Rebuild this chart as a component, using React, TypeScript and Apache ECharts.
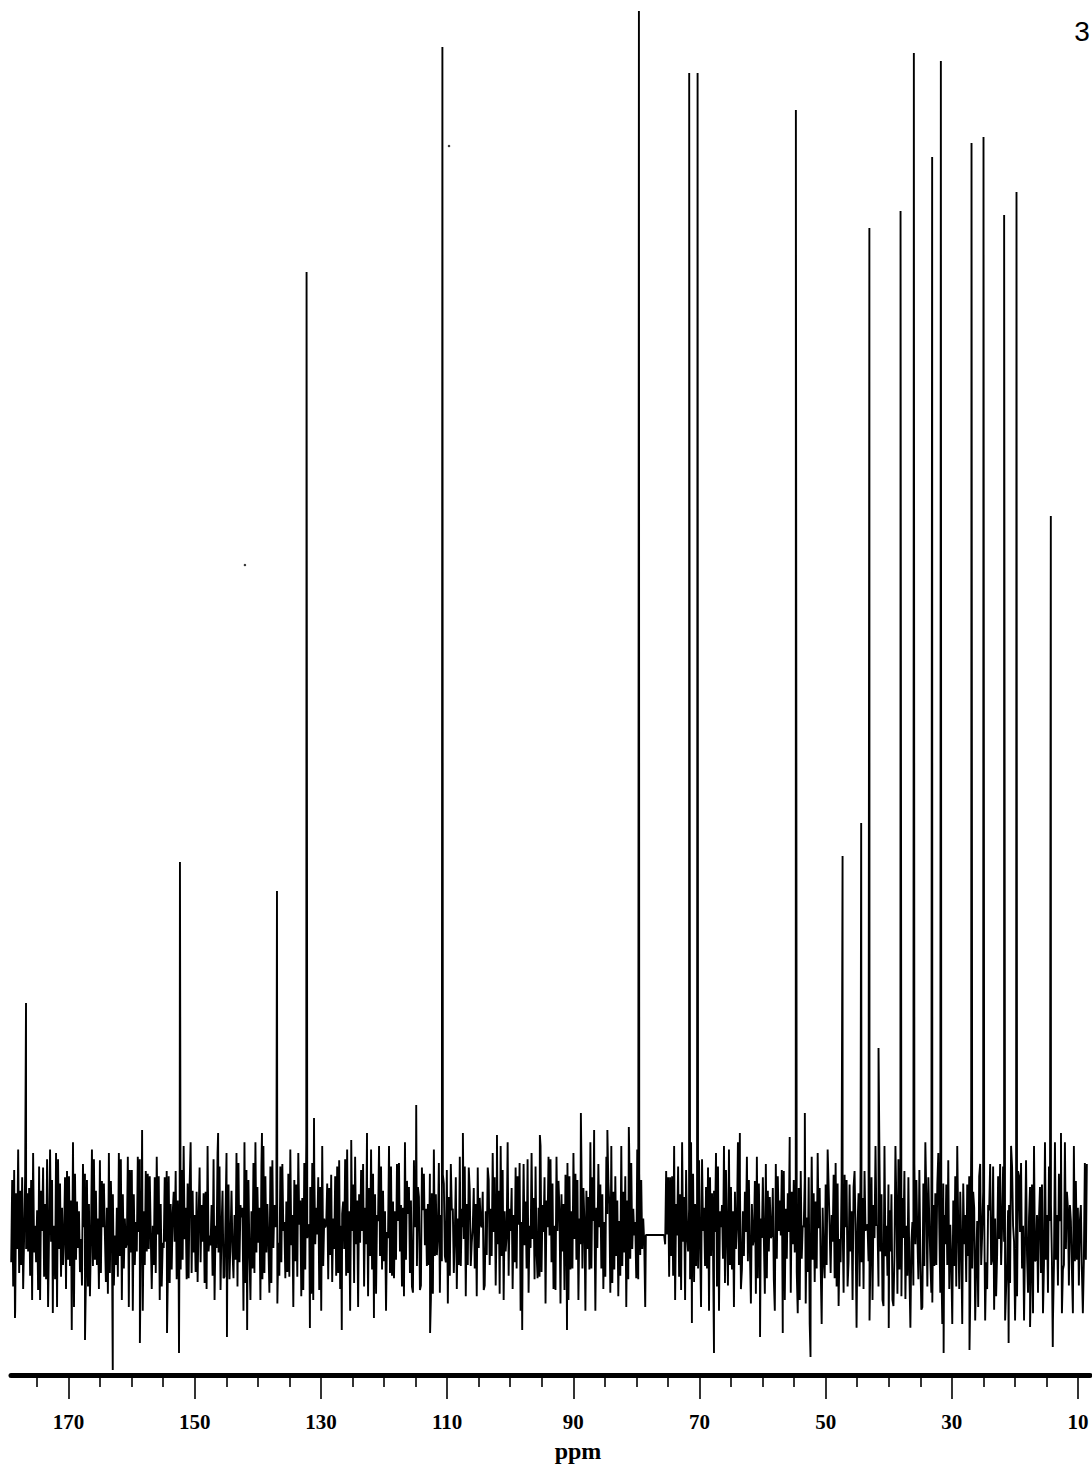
import { useEffect, useRef } from "react";
import * as echarts from "echarts";

// x axis (ppm, reversed)
const AXIS_MIN = 8.1;
const AXIS_MAX = 179.13;
const MAJOR_TICKS = [170, 150, 130, 110, 90, 70, 50, 30, 10];
const MINOR_TICKS = [175, 165, 160, 155, 145, 140, 135, 125, 120, 115, 105, 100, 95, 85, 80, 75, 65, 60, 55, 45, 40, 35, 25, 20, 15];

// resonance lines: position (ppm) and height (arbitrary intensity units)
const PEAK_PPM = [176.75, 152.35, 136.97, 132.28, 114.9, 110.75, 79.6, 71.63, 70.3, 54.72, 47.32, 44.37, 43.07, 41.62, 38.13, 36.02, 33.12, 31.74, 26.88, 24.98, 21.71, 19.75, 14.31];
const PEAK_HEIGHT = [372, 513, 484, 1103, 270, 1328, 1364, 1302, 1302, 1265, 519, 552, 1147, 327, 1164, 1322, 1218, 1314, 1232, 1238, 1160, 1183, 859];

// larger noise excursions
const SPIKE_PPM = [178.5, 172.5, 169.5, 167.4, 163.0, 158.7, 158.35, 154.4, 152.5, 146.3, 144.9, 141.7, 139.35, 131.75, 131.1, 126.7, 125.2, 122.7, 121.6, 112.7, 107.5, 102.1, 98.1, 95.3, 91.0, 88.8, 86.7, 84.6, 81.2, 71.2, 67.7, 63.6, 60.4, 56.8, 55.7, 53.3, 52.4, 40.0, 31.3, 27.2, 21.0, 17.6, 14.0, 12.7];
const SPIKE_VALUE = [57, 62, 45, 35, 5, 32, 245, 42, 22, 242, 38, 45, 242, 47, 257, 45, 235, 242, 57, 42, 242, 240, 45, 240, 45, 262, 245, 245, 248, 52, 22, 242, 38, 42, 238, 262, 18, 47, 22, 25, 32, 48, 28, 242];

// baseline noise samples: coarse level digit + fine level digit around the baseline
const NOISE_START = 179.1;
const NOISE_END = 8.6;
const BASELINE = 140;
const NOISE_LEVEL = 17;
const NOISE_FINE_LEVEL = 3.6;
const GAP_FROM = 78.5;
const GAP_TO = 75.7;
const NOISE_DIGITS =
  "372816493728159463827194635281749362815947362918473625819473" +
  "629184736251948372615938472619384751629384715263948172635918" +
  "481726395847162938475162839471625384917263584926173849562718" +
  "937462815937462819354728163948257136948257316492837561928374" +
  "162839475618293746518293746152839461728394617283956172839465" +
  "728193648271936457283916472839165748293617482936175849263718" +
  "493817265948372615493827164958372619485736219483762195847362" +
  "816294735816297438162957348162937458162973548261937548216397" +
  "274958163729481635927481639275816394728163957284163927581649" +
  "583716294851736294817362958471639285174639285716394827163958" +
  "619283746152938471629384756192837465192834761529384716253948" +
  "384729165837294618537294816372951846372918463759281647392851" +
  "927361845927136485927316458291736485291736458219374658291736" +
  "591837462081936471528039461729583064182975364918270538619472" +
  "283617940562837194652038174965283710946285371049628351749062" +
  "820461937528401739628541073628951407638291540637295184073618" +
  "471928603517924860317592480613759268401357298640319758260493" +
  "157380924615738029461857302946185703294861753092846157302849";
const NOISE_FINE =
  "482609371584620397158362049173582064913758204619370582461093" +
  "739150284617395082641739058264139728506139472850619347280516" +
  "260481753926048175392608415793620845179362805147932608154792" +
  "915236087241593068724159308627145903682415793062841750936281" +
  "347819260537481926057348196205743819265074318920657431829605" +
  "608329574160832957416082395714608239571406823597140683259741" +
  "172594036817259403681752940368712549038617254903681729540368" +
  "539071462853907146285390174628530917468253091764283590174628" +
  "801634729508163472950816342795801634279508613472950861342795" +
  "294760158392476105839247615083294716053829746105839274610583" +
  "658302917465830291746583021974568320197465380291746538029174" +
  "041958362704195836270491586327401985367204198536270491583627" +
  "786241035987624103598726413059782641039578621403598726413059" +
  "315098276413150982764135098276413150928764135098276143150982" +
  "927436180592743618059274316805297436810529743618509274361805" +
  "460517398246051739824605713982645017392846501739284605179382" +
  "193870524619387052461938075246913807526491387052641938702546" +
  "576124890357612489035761428903756142893057162489305761249803";

// scanning specks
const SPECK_PPM = [109.7, 142.05];
const SPECK_VALUE = [1229, 810];

export default function App() {
  const ref = useRef<HTMLDivElement>(null);
  useEffect(() => {
    if (!ref.current) return;
    const chart = echarts.init(ref.current, null, { renderer: "svg" });
    const pts: [number, number][] = [];
    const n = NOISE_DIGITS.length;
    for (let i = 0; i < n; i++) {
      const ppm = NOISE_START - (i * (NOISE_START - NOISE_END)) / (n - 1);
      if (ppm < GAP_FROM && ppm > GAP_TO) continue;
      const d = Number(NOISE_DIGITS[i]);
      const f = Number(NOISE_FINE[i] ?? "4");
      pts.push([ppm, BASELINE + (d - 4.5) * NOISE_LEVEL + (f - 4.5) * NOISE_FINE_LEVEL]);
    }
    pts.push([GAP_FROM, BASELINE], [GAP_TO, BASELINE]);
    PEAK_PPM.forEach((p, i) => pts.push([p, PEAK_HEIGHT[i]]));
    SPIKE_PPM.forEach((p, i) => pts.push([p, SPIKE_VALUE[i]]));
    pts.sort((a, b) => b[0] - a[0]);

    const serif = "'Liberation Serif', 'DejaVu Serif', serif";
    chart.setOption({
      animation: false,
      backgroundColor: "#ffffff",
      grid: { left: 11, right: 2, top: 0, bottom: 94, containLabel: false, outerBoundsMode: "none" },
      xAxis: [
        {
          type: "value",
          min: AXIS_MIN,
          max: AXIS_MAX,
          inverse: true,
          position: "bottom",
          splitLine: { show: false },
          axisLine: { show: true, lineStyle: { color: "#000", width: 5 } },
          axisTick: { show: true, customValues: MAJOR_TICKS, length: 24, lineStyle: { color: "#000", width: 1.6 } },
          axisLabel: {
            show: true,
            customValues: MAJOR_TICKS,
            margin: 36,
            color: "#000",
            fontFamily: serif,
            fontWeight: "bold",
            fontSize: 21,
          },
        },
        {
          type: "value",
          min: AXIS_MIN,
          max: AXIS_MAX,
          inverse: true,
          position: "bottom",
          splitLine: { show: false },
          axisLine: { show: false },
          axisTick: { show: true, customValues: MINOR_TICKS, length: 12, lineStyle: { color: "#000", width: 1.6 } },
          axisLabel: { show: false },
        },
      ],
      yAxis: { type: "value", min: 0, max: 1375, show: false },
      series: [
        {
          type: "line",
          xAxisIndex: 0,
          data: pts,
          symbol: "none",
          lineStyle: { color: "#000", width: 1.9 },
          silent: true,
        },
        {
          type: "scatter",
          xAxisIndex: 0,
          data: SPECK_PPM.map((p, i) => [p, SPECK_VALUE[i]]),
          symbolSize: 2.5,
          itemStyle: { color: "#000" },
          silent: true,
        },
      ],
      graphic: [
        {
          type: "text",
          x: 578,
          y: 1451,
          style: {
            text: "ppm",
            fill: "#000",
            font: "bold 24px 'Liberation Serif', serif",
            textAlign: "center",
            textVerticalAlign: "middle",
          },
        },
        {
          type: "text",
          x: 1082,
          y: 31,
          style: {
            text: "3",
            fill: "#000",
            font: "28px 'Liberation Sans', Arial, sans-serif",
            textAlign: "center",
            textVerticalAlign: "middle",
          },
        },
      ],
    });
    return () => chart.dispose();
  }, []);
  return (
    <div
      ref={ref}
      style={{ position: "absolute", left: 0, top: 0, width: 1092, height: 1469, background: "#fff" }}
    />
  );
}
